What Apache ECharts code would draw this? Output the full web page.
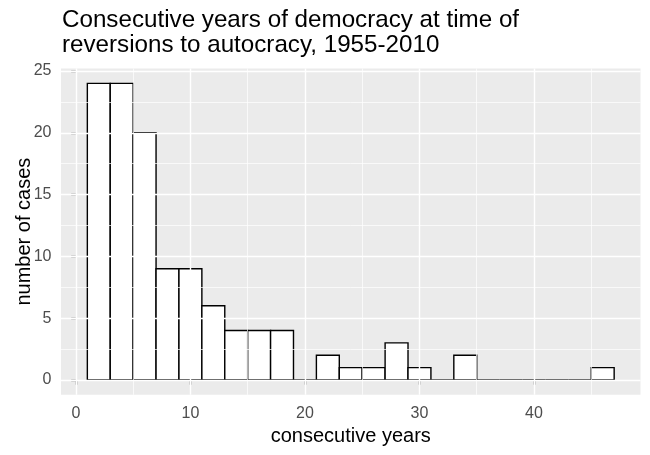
<!DOCTYPE html>
<html>
<head>
<meta charset="utf-8">
<script src="https://cdn.jsdelivr.net/npm/echarts@6/dist/echarts.min.js"></script>
<style>html,body{margin:0;padding:0;background:#fff}#c{width:650px;height:455px}</style>
</head>
<body>
<div id="c"></div>
<script>
// Data
const binStart = [1,3,5,7,9,11,13,15,17,19,21,23,25,27,29,31,33,35,37,39,41,43,45];
const binWidth = 2;
const counts   = [24,24,20,9,9,6,4,4,4,0,2,1,1,3,1,0,2,0,0,0,0,0,1];
const xMajor = [0,10,20,30,40];
const xMinor = [5,15,25,35,45];
const yMajor = [0,5,10,15,20,25];
const yMinor = [2.5,7.5,12.5,17.5,22.5];

const bars = binStart.map((s,i)=>[s, s+binWidth, counts[i]]);

const chart = echarts.init(document.getElementById('c'), null, {renderer:'canvas'});
const FONT = 'Liberation Sans, Arial, sans-serif';

function gl(vals, key, w){
  return vals.map(v=>({[key]: v, lineStyle:{color:'#ffffff', width:w, type:'solid'}}));
}

chart.setOption({
  animation:false,
  backgroundColor:'#ffffff',
  title:{
    text:'Consecutive years of democracy at time of\nreversions to autocracy, 1955-2010',
    left:62, top:8, padding:0,
    textStyle:{fontFamily:FONT, fontSize:24.2, fontWeight:'normal', color:'#000', lineHeight:24.6}
  },
  grid:{left:61, right:9.5, top:68.5, bottom:60.2, show:true, backgroundColor:'#EBEBEB', borderWidth:0,
        containLabel:false, outerBoundsMode:'none'},
  xAxis:{
    type:'value', min:-1.3, max:49.3,
    name:'consecutive years', nameLocation:'middle', nameGap:27,
    nameTextStyle:{fontFamily:FONT, fontSize:20, color:'#000'},
    axisLine:{show:false},
    axisTick:{show:true, length:4.7, customValues:xMajor, lineStyle:{color:'#333333', width:1.4}},
    axisLabel:{customValues:xMajor, fontFamily:FONT, fontSize:16, color:'#4D4D4D', margin:10.5},
    splitLine:{show:false}
  },
  yAxis:{
    type:'value', min:-1.2, max:25.2,
    name:'number of cases', nameLocation:'middle', nameGap:27, nameMoveOverlap:false,
    nameTextStyle:{fontFamily:FONT, fontSize:20, color:'#000'},
    axisLine:{show:false},
    axisTick:{show:true, length:4.7, customValues:yMajor, lineStyle:{color:'#333333', width:1.4}},
    axisLabel:{customValues:yMajor, fontFamily:FONT, fontSize:16, color:'#4D4D4D', margin:9.5},
    splitLine:{show:false}
  },
  series:[
    {
      type:'line', data:[], z:1, silent:true,
      markLine:{
        silent:true, symbol:['none','none'], label:{show:false}, animation:false,
        data:[].concat(gl(xMinor,'xAxis',0.7), gl(yMinor,'yAxis',0.7), gl(xMajor,'xAxis',1.4), gl(yMajor,'yAxis',1.4))
      }
    },
    {
      type:'custom', z:2, data:bars,
      renderItem:function(params, api){
        const x0 = api.value(0), x1 = api.value(1), c = api.value(2);
        const p0 = api.coord([x0, c]);
        const p1 = api.coord([x1, 0]);
        if (c === 0) {
          return {type:'line', shape:{x1:p0[0], y1:p1[1], x2:p1[0], y2:p1[1]}, style:{stroke:'#000', lineWidth:1.4}};
        }
        return {type:'rect', shape:{x:p0[0], y:p0[1], width:p1[0]-p0[0], height:p1[1]-p0[1]},
                style:{fill:'#ffffff', stroke:'#000000', lineWidth:1.4}};
      }
    }
  ]
});
</script>
</body>
</html>
